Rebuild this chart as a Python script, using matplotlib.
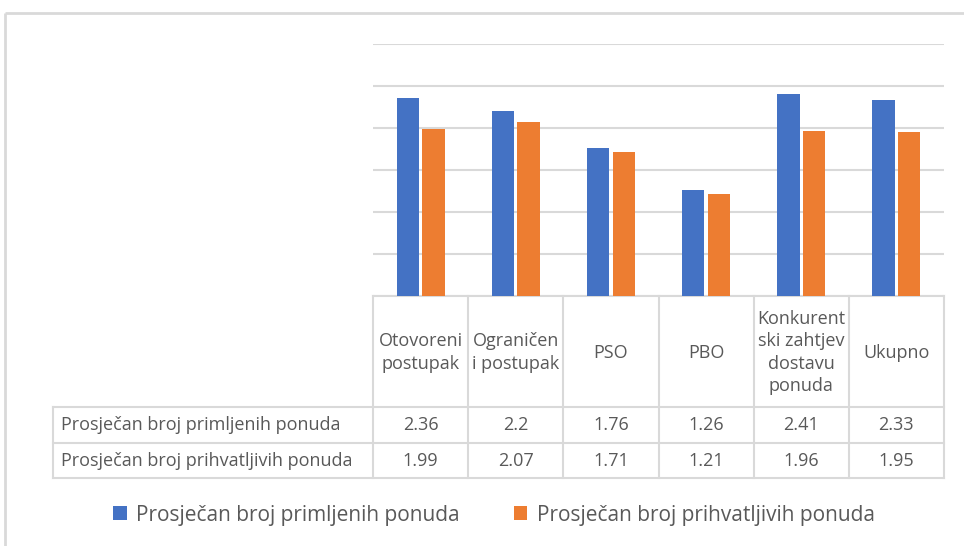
import matplotlib
matplotlib.use("Agg")
import matplotlib.pyplot as plt

categories = ["Otovoreni\npostupak", "Ograničen\ni postupak", "PSO", "PBO",
              "Konkurent\nski zahtjev\ndostavu\nponuda", "Ukupno"]
series_names = ["Prosječan broj primljenih ponuda", "Prosječan broj prihvatljivih ponuda"]
received = [2.36, 2.2, 1.76, 1.26, 2.41, 2.33]
acceptable = [1.99, 2.07, 1.71, 1.21, 1.96, 1.95]
received_labels = ["2.36", "2.2", "1.76", "1.26", "2.41", "2.33"]
acceptable_labels = ["1.99", "2.07", "1.71", "1.21", "1.96", "1.95"]
yticks = [0, 0.5, 1.0, 1.5, 2.0, 2.5, 3.0]

BLUE = "#4472C4"
ORANGE = "#ED7D31"
GRID = "#D9D9D9"
TXT = "#595959"

plt.rcParams['font.family'] = ['Open Sans', 'DejaVu Sans']

W, H = 964, 546
fig = plt.figure(figsize=(W / 100, H / 100), dpi=100)

ov = fig.add_axes([0, 0, 1, 1])
ov.set_xlim(0, W)
ov.set_ylim(H, 0)
ov.axis("off")

ov.plot([5, W], [13, 13], color="#D9D9D9", lw=2, solid_capstyle="butt")
ov.plot([5, 5], [13, H], color="#D9D9D9", lw=2, solid_capstyle="butt")

x0, x1 = 373, 944
ytop, ybot = 44, 296
ax = fig.add_axes([x0 / W, 1 - ybot / H, (x1 - x0) / W, (ybot - ytop) / H])
n = len(categories)
idx = list(range(n))
bw = 0.235
gap = 0.035
b1 = ax.bar([i - bw / 2 - gap / 2 for i in idx], received, width=bw, color=BLUE,
            label=series_names[0], zorder=3)
b2 = ax.bar([i + bw / 2 + gap / 2 for i in idx], acceptable, width=bw, color=ORANGE,
            label=series_names[1], zorder=3)
ax.set_xlim(-0.5, n - 0.5)
ax.set_ylim(0, 3)
ax.set_yticks(yticks)
ax.yaxis.grid(True, color=GRID, lw=1.5, zorder=0)
ax.tick_params(left=False, bottom=False, labelleft=False, labelbottom=False)
for s in ax.spines.values():
    s.set_visible(False)
ax.patch.set_alpha(0)

colw = (x1 - x0) / n
col_edges = [x0 + i * colw for i in range(n + 1)]
row_y = [296, 407, 443, 478]
lab_x0 = 53
lc = dict(color=GRID, lw=1.5, zorder=5)
ov.plot([x0, x1], [row_y[0], row_y[0]], **lc)
for y in row_y[1:]:
    ov.plot([lab_x0, x1], [y, y], **lc)
for xe in col_edges:
    ov.plot([xe, xe], [row_y[0], row_y[3]], **lc)
ov.plot([lab_x0, lab_x0], [row_y[1], row_y[3]], **lc)

fs = 13.0
for i, cat in enumerate(categories):
    cx = (col_edges[i] + col_edges[i + 1]) / 2
    ov.text(cx, (row_y[0] + row_y[1]) / 2 + 1, cat, ha="center", va="center",
            fontsize=fs, color=TXT, linespacing=1.3)
    ov.text(cx, (row_y[1] + row_y[2]) / 2, received_labels[i], ha="center",
            va="center", fontsize=fs, color=TXT)
    ov.text(cx, (row_y[2] + row_y[3]) / 2, acceptable_labels[i], ha="center",
            va="center", fontsize=fs, color=TXT)
ov.text(61, (row_y[1] + row_y[2]) / 2, series_names[0], ha="left", va="center",
        fontsize=fs, color=TXT)
ov.text(61, (row_y[2] + row_y[3]) / 2, series_names[1], ha="left", va="center",
        fontsize=fs, color=TXT)

leg = fig.legend(handles=[b1, b2], labels=series_names, loc="center",
                 bbox_to_anchor=(494 / W, 1 - 515 / H), ncol=2, frameon=False,
                 fontsize=15, handlelength=0.65, handleheight=0.65,
                 handletextpad=0.45, columnspacing=2.6)
for t in leg.get_texts():
    t.set_color(TXT)

fig.savefig("out.png", dpi=100)
